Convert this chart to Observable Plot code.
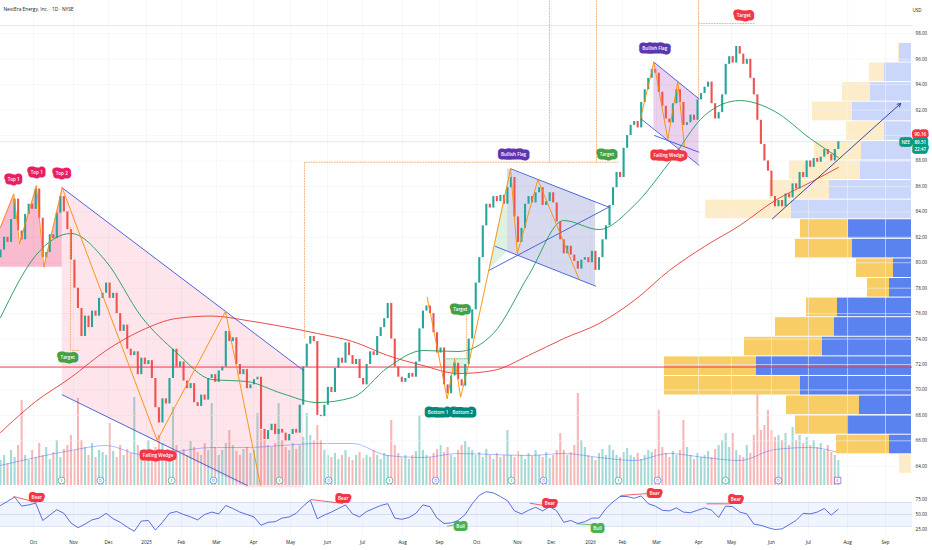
<!DOCTYPE html>
<html>
<head>
<meta charset="utf-8">
<script src="https://cdn.jsdelivr.net/npm/d3@7"></script>
<script src="https://cdn.jsdelivr.net/npm/@observablehq/plot@0.6"></script>
<style>
html,body{margin:0;padding:0;background:#fff;}
#chart{position:relative;width:932px;height:550px;overflow:hidden;background:#fff;}
#chart svg{position:absolute;left:0;}
</style>
</head>
<body>
<div id="chart"></div>
<script>
// ---------- DATA ----------
// daily closes sampled every 2 trading days (index i -> trading day 2*i)
const closes = [
81.0,82.0,81.6,83.4,85.0,82.5,81.8,83.8,84.6,84.2,
85.8,83.5,80.4,80.8,82.2,81.9,83.9,85.2,84.0,82.6,
80.2,78.0,76.4,74.2,75.8,74.9,76.2,75.8,77.2,77.6,
78.4,77.2,77.6,76.0,74.6,75.1,73.2,72.7,73.0,71.2,
72.5,72.0,72.3,70.9,68.6,67.4,69.3,68.9,70.9,73.2,
71.8,72.2,70.7,70.1,70.5,69.0,68.7,69.6,69.2,70.9,
71.2,70.6,71.5,71.8,74.6,73.8,74.1,72.0,71.2,71.6,
70.1,70.4,70.8,71.0,66.9,66.1,66.8,67.3,66.5,66.9,
66.6,66.0,66.5,66.9,66.6,68.8,71.8,73.6,74.2,73.8,
68.0,67.9,68.8,70.2,69.8,71.7,72.5,72.1,73.7,72.7,
72.0,72.4,70.9,70.4,72.0,73.0,72.7,74.2,74.9,75.6,
76.8,74.0,71.8,71.0,70.6,70.9,71.3,71.0,72.2,74.8,
76.2,76.6,76.0,74.5,72.9,73.3,70.4,69.7,71.1,72.1,
70.8,70.3,72.0,74.0,76.3,78.4,80.4,82.9,84.6,84.3,
85.2,84.8,85.3,84.6,85.9,86.7,83.6,81.6,82.7,84.6,
85.2,84.7,85.5,85.9,84.5,84.8,85.5,84.7,83.2,81.8,
80.7,81.3,80.6,80.1,79.5,80.2,80.4,80.0,80.9,79.4,
80.4,81.8,82.9,84.5,85.9,87.1,86.7,89.0,90.0,90.8,
91.1,90.6,92.6,93.6,94.5,95.2,94.9,93.4,92.3,91.3,
91.0,92.5,93.6,92.6,90.8,91.0,91.6,91.2,92.8,93.3,
93.8,94.2,92.5,91.3,91.8,93.2,95.6,96.2,95.7,97.0,
96.4,95.6,96.0,94.5,93.2,91.2,89.3,88.0,87.2,85.2,
84.4,84.9,84.4,85.4,85.1,86.2,85.8,87.1,86.7,88.0,
87.5,88.2,87.9,88.3,88.9,88.5,88.0,88.9,89.51
];
const open0 = 80.4;
const volumes = [
25,30,22,35,28,40,85,30,25,35,
28,42,30,38,26,33,45,28,36,40,
50,35,87,45,38,30,42,28,35,33,
30,62,34,28,40,30,36,32,88,40,
35,30,45,33,38,50,42,35,30,78,
40,32,36,30,44,38,33,30,42,35,
82,38,30,35,42,55,40,34,30,36,
38,32,35,72,55,45,40,38,42,82,
45,38,35,42,36,40,48,72,50,45,
60,45,35,30,28,32,26,30,35,28,
25,30,33,27,30,28,35,30,26,32,
30,65,40,32,28,30,26,30,34,70,
35,30,28,32,36,40,33,38,30,28,
35,40,44,38,35,30,33,28,36,30,
26,32,28,30,55,30,28,34,30,26,
32,29,35,30,28,33,27,30,35,52,
35,30,33,40,92,45,38,30,28,25,
32,36,30,40,35,30,28,33,37,30,
28,32,26,30,35,33,36,75,38,32,
28,34,30,35,65,38,30,26,32,28,
30,34,28,36,40,45,52,38,52,35,
30,28,40,32,50,92,55,60,75,55,
48,50,45,52,40,58,45,50,42,48,
40,45,38,42,35,40,33,30,25
];
// moving averages, read at these candle indices
const maIdx  = [0,10,20,30,40,50,60,70,80,90,100,110,120,130,140,150,160,170,180,190,200,210,220,230,238];
const sma50  = [75.69,80.57,82.30,80.10,75.77,72.94,70.82,70.66,69.72,69.01,69.41,71.76,73.10,73.02,74.44,79.00,83.32,82.61,84.50,87.88,91.58,92.75,91.89,89.77,88.27];
const sma200 = [66.65,69.09,70.98,73.10,74.67,75.62,75.81,75.46,74.99,74.44,73.81,72.71,71.92,71.29,71.53,72.71,74.04,75.22,77.03,79.39,81.28,82.93,84.89,86.31,87.49];
const volMA  = [20,28,35,40,31,34,38,38,40,42,42,30,28,32,31,30,32,28,25,32,28,25,36,38,33];
// RSI every 4 trading days
const rsi = [
65,72,79,64,66,69,40,49,58,52,
36,28,34,41,44,52,43,37,29,22,
39,40,24,37,52,55,50,46,41,50,
54,51,65,60,54,50,46,32,37,38,
44,46,52,64,74,43,49,54,60,66,
51,46,55,60,65,68,44,42,45,52,
66,63,44,35,36,40,50,68,82,88,
86,80,73,56,51,57,62,56,63,56,
37,40,35,38,44,44,60,71,80,80,
77,81,68,64,57,56,61,54,53,57,
61,57,45,64,63,54,51,34,32,28,
25,26,33,40,52,51,54,60,49,59
];
const monthLabels = ["Oct","Nov","Dec","2025","Feb","Mar","Apr","May","Jun","Jul","Aug","Sep","Oct","Nov","Dec","2026","Feb","Mar","Apr","May","Jun","Jul","Aug","Sep"];
const monthDays   = [18.75,41.5,61.4,83,102.8,122.7,143.75,164.8,185.8,205.7,228.4,249.4,270.5,293.75,313,335.2,353.4,372.7,396.6,415.3,438,459,481.25,502.8];
const priceTicks = [64,66,68,70,72,74,76,78,80,82,84,86,88,90,92,94,96,98];
const rsiTicks = [25,50,75];
// volume profile (visible range)
const vpEdges = [63.40,64.94,66.48,68.02,69.56,71.10,72.64,74.18,75.72,77.26,78.80,80.34,81.88,83.42,84.96,86.50,88.04,89.58,91.12,92.66,94.20,95.74,97.28];
const vpUp    = [0,22,64,52,111,155,89,77,74,22,18,59,63,120,82,51,50,27,59,41,27,12];
const vpDown  = [12,53,52,73,136,92,78,59,31,22,37,57,48,86,60,71,47,38,40,28,15,1];
const vaLow = 64.94, vaHigh = 83.42;
const supportLevel = 71.8;
const lastPrice = 89.51, topLine = 98.65;
// earnings / dividend markers
const eventDays  = [34.7,56.8,97.2,121,158.5,186.4,221,247.2,290.3,308.5,351.1,373.3,411.9,442];
const eventKinds = ["E","D","E","D","E","D","E","D","E","D","E","D","E","D"];
const nextEarnDay = 475.6;
// chart pattern drawings (day, price)
const dtZig    = [[0,82.77],[7.56,85.42],[10.8,81.49],[20.45,86.07],[24.6,79.65],[35.06,85.89]];
const dtNeck   = 79.65;
const wedgeZig = [[35.06,85.89],[89.03,66.03],[127.8,76.17],[147.7,62.49]];
const wedgeUpper = [[35.06,85.89],[172.2,71.53]];
const wedgeLower = [[35.06,69.62],[140.2,62.49]];
const wedgeArea  = {d:[35.06,140.2,172.2], lo:[69.62,62.3,62.3], hi:[85.89,74.88,71.53]};
const dbZig    = [[242.4,77.29],[253.8,69.30],[258,72.45],[261.4,69.43],[265.2,71.53],[289.8,87.39],[293.6,80.70],[305.3,86.52],[328.6,78.74]];
const dbBox    = {d:[251.7,265.3], lo:[71.3,71.3], hi:[72.45,72.45]};
const flag1Lines = [[[289.8,87.39],[345.6,84.37]],[[281.25,81.28],[338.1,78.16]],[[277.4,79.39],[345.6,84.37]]];
const flag1Area  = {d:[288.1,338.1], lo:[80.9,78.16], hi:[87.39,84.78]};
const flag1Pole  = {d:[277.4,288.1], lo:[79.39,80.9], hi:[79.39,86.3]};
const flag2Zig   = [[363.6,91.34],[371.2,95.77],[379.1,89.71],[384.8,94.25],[388.6,89.08]];
const flag2Lines = [[[371.2,95.77],[396.8,92.89]],[[363.6,91.34],[396.8,87.67]],[[371.6,90.0],[396.8,88.69]]];
const flag2Area  = {d:[371.2,396.8], lo:[90.55,87.67], hi:[95.77,92.89]};
const targetDots = [
  [[39.8,82.77],[39.8,73.1],[44.3,73.1]],
  [[172.7,74.1],[172.7,87.9],[351,87.9]],
  [[311.9,100.6],[311.9,87.9]],
  [[338.6,100.6],[338.6,87.9]],
  [[264.8,72.47],[264.8,75.8]],
  [[396.6,100.6],[396.6,92.75]],
  [[396.6,98.81],[429,98.81]]
];
const dbNeckDots = [[251.7,72.45],[265.3,72.45]];
const trendArrow = {d1:438.5, p1:83.45, d2:511.4, p2:92.52};
const patternLabels = [
 {t:"Top 1", d:7.5, p:86.54, c:"#e91e63"},
 {t:"Top 1", d:20.6, p:87.1, c:"#e91e63"},
 {t:"Top 2", d:34.8, p:86.98, c:"#e91e63"},
 {t:"Target", d:38.2, p:72.55, c:"#43a047"},
 {t:"Falling Wedge", d:89.5, p:64.82, c:"#f23645"},
 {t:"Bottom 1", d:248.6, p:68.19, c:"#00897b"},
 {t:"Bottom 2", d:262.6, p:68.19, c:"#00897b"},
 {t:"Target", d:261.2, p:76.35, c:"#43a047"},
 {t:"Bullish Flag", d:291.5, p:88.52, c:"#5e35b1"},
 {t:"Target", d:344.5, p:88.51, c:"#43a047"},
 {t:"Bullish Flag", d:371.7, p:96.87, c:"#5e35b1"},
 {t:"Falling Wedge", d:379.7, p:88.46, c:"#f23645"},
 {t:"Target", d:422.3, p:99.44, c:"#f23645"}
];
const priceTags = [
 {t:"90.16", d:522.6, p:90.1, c:"#f23645"},
 {t:"NEE", d:514.3, p:89.45, c:"#089981"},
 {t:"89.51", d:522.6, p:89.45, c:"#089981"},
 {t:"22:47", d:522.6, p:88.93, c:"#089981"}
];
const rsiDivs = [
 {d1:7.4, r1:80, d2:20.6, r2:70, c:"#f23645"},
 {d1:176.1, r1:75, d2:194.7, r2:68.3, c:"#f23645"},
 {d1:253.8, r1:30.5, d2:259, r2:33.3, c:"#4caf50"},
 {d1:300.7, r1:68.9, d2:308.7, r2:65, c:"#f23645"},
 {d1:327.3, r1:34.4, d2:336.7, r2:32.8, c:"#4caf50"},
 {d1:352.3, r1:81.7, d2:368.2, r2:85, c:"#f23645"},
 {d1:401.1, r1:67.8, d2:414.4, r2:67.8, c:"#f23645"}
];
const rsiLabels = [
 {t:"Bear", d:20.6, r:77.5, c:"#f23645"},
 {t:"Bear", d:194.7, r:76.1, c:"#f23645"},
 {t:"Bull", d:261.4, r:30, c:"#4caf50"},
 {t:"Bear", d:312.1, r:68.3, c:"#f23645"},
 {t:"Bull", d:339.2, r:26.7, c:"#4caf50"},
 {t:"Bear", d:371.6, r:84.8, c:"#f23645"},
 {t:"Bear", d:417.8, r:75, c:"#f23645"}
];

// ---------- BUILD ----------
const FONT = "'Open Sans','Noto Sans',sans-serif";
const baseStyle = {background:"transparent", fontFamily:FONT, fontSize:"4.6px", color:"#131722", overflow:"visible", maxWidth:"none"};
const X = {domain:[0,529.5], range:[0,932], axis:null};
const YP = {domain:[64,98], range:[465.76,33.28], axis:null};
const axisDay = 519.9;
const iconPrice = 62.88;

const candles = closes.map((c,i)=>({d:2*i, o: i ? closes[i-1] : open0, c, v: volumes[i] ?? 30}));
const pts = a => a.map(([d,p])=>({d,p}));
const seg = (arr) => arr.flatMap((s,k)=>s.map(([d,p])=>({k,d,p})));
const areaRows = a => a.d.map((d,j)=>({d, lo:a.lo[j], hi:a.hi[j]}));
const maRows = vals => maIdx.map((k,j)=>({d:2*k, v:vals[j]}));

// label = white text on a halo "box" of the label colour
function labelMark(l, yKey, sw){
  return Plot.text([l], {x:"d", y:yKey, text:"t", fill:"white", stroke:l.c, strokeWidth:sw||7,
    strokeLinejoin:"round", paintOrder:"stroke", fontSize:4.6, fontWeight:600});
}

const root = document.getElementById("chart");

// layer 1: volume
const volPlot = Plot.plot({
  width:932, height:488, margin:0, marginRight:20,
  x:X, y:{domain:[0,100], range:[485,385], axis:null},
  style:baseStyle,
  marks:[
    Plot.ruleX(candles, {x:"d", y1:()=>0, y2:"v", stroke:d=>d.c>=d.o?"#26a69a":"#ef5350", strokeOpacity:0.42, strokeWidth:2.1}),
    Plot.line(maRows(volMA), {x:"d", y:"v", stroke:"#3d5afe", strokeOpacity:0.7, strokeWidth:0.6, curve:"monotone-x"})
  ]
});
volPlot.style.top = "0px";
root.appendChild(volPlot);

// layer 2: volume profile
const vpBins = vpUp.map((u,k)=>({lo:vpEdges[k], hi:vpEdges[k+1], up:u, dn:vpDown[k], va: vpEdges[k]>=vaLow-0.01 && vpEdges[k+1]<=vaHigh+0.01}));
const vpPlot = Plot.plot({
  width:932, height:488, margin:0, marginRight:20,
  x:{domain:[0,250], range:[911,661], axis:null}, y:YP,
  style:baseStyle,
  marks:[
    Plot.rect(vpBins, {x1:()=>0, x2:"up", y1:"lo", y2:"hi", fill:d=>d.va?"#5b83f0":"#cad7fa", insetTop:0.5, insetBottom:0.5}),
    Plot.rect(vpBins, {x1:"up", x2:d=>d.up+d.dn, y1:"lo", y2:"hi", fill:d=>d.va?"#f9cd66":"#fcecc8", insetTop:0.5, insetBottom:0.5})
  ]
});
vpPlot.style.top = "0px";
root.appendChild(vpPlot);

// layer 3: price
const mainPlot = Plot.plot({
  width:932, height:488, margin:0, marginRight:20,
  x:X, y:YP,
  style:baseStyle,
  marks:[
    Plot.ruleX(monthDays, {stroke:"#eef1f6", strokeWidth:0.6}),
    Plot.ruleY(priceTicks, {stroke:"#eef1f6", strokeWidth:0.6}),
    Plot.ruleY([topLine, lastPrice], {stroke:"#d6d9e0", strokeWidth:0.6}),
    // pattern fills
    Plot.areaY(areaRows(wedgeArea), {x:"d", y1:"lo", y2:"hi", fill:"#f06080", fillOpacity:0.16}),
    Plot.areaY(pts(dtZig), {x:"d", y1:()=>dtNeck, y2:"p", fill:"#e91e63", fillOpacity:0.3}),
    Plot.areaY(areaRows(flag1Area), {x:"d", y1:"lo", y2:"hi", fill:"#7986cb", fillOpacity:0.3}),
    Plot.areaY(areaRows(flag1Pole), {x:"d", y1:"lo", y2:"hi", fill:"#81c784", fillOpacity:0.25}),
    Plot.areaY(areaRows(flag2Area), {x:"d", y1:"lo", y2:"hi", fill:"#ba68c8", fillOpacity:0.3}),
    Plot.areaY(areaRows(dbBox), {x:"d", y1:"lo", y2:"hi", fill:"#81c784", fillOpacity:0.25}),
    // candles
    Plot.ruleX(candles, {x:"d", y1:"o", y2:"c", stroke:d=>d.c>=d.o?"#26a69a":"#ef5350", strokeWidth:2.1}),
    // support line
    Plot.ruleY([supportLevel], {stroke:"#f23645", strokeWidth:1}),
    // moving averages
    Plot.line(maRows(sma200), {x:"d", y:"v", stroke:"#e53935", strokeWidth:0.9, curve:"monotone-x"}),
    Plot.line(maRows(sma50), {x:"d", y:"v", stroke:"#1e9a57", strokeWidth:0.9, curve:"monotone-x"}),
    // pattern lines
    Plot.line(seg([wedgeUpper, wedgeLower]), {x:"d", y:"p", z:"k", stroke:"#3d56d8", strokeWidth:0.9, clip:true}),
    Plot.line(seg(flag1Lines), {x:"d", y:"p", z:"k", stroke:"#3d56d8", strokeWidth:0.9}),
    Plot.line(seg(flag2Lines), {x:"d", y:"p", z:"k", stroke:"#3d56d8", strokeWidth:0.9}),
    Plot.line(seg([dtZig, wedgeZig, dbZig, flag2Zig]), {x:"d", y:"p", z:"k", stroke:"#fb8c00", strokeWidth:0.9, clip:true}),
    Plot.line(seg(targetDots), {x:"d", y:"p", z:"k", stroke:"#f4a261", strokeWidth:0.8, strokeDasharray:"1,1.6", clip:true}),
    Plot.line(pts(dbNeckDots), {x:"d", y:"p", stroke:"#66bb6a", strokeWidth:0.8, strokeDasharray:"1,1.6"}),
    Plot.arrow([trendArrow], {x1:"d1", y1:"p1", x2:"d2", y2:"p2", stroke:"#2b3496", strokeWidth:0.9, headLength:6}),
    // event icons
    Plot.dot(eventDays.map((d,i)=>({d,k:eventKinds[i]})), {x:"d", y:()=>iconPrice, r:3.4, fill:"white", stroke:d=>d.k==="E"?"#089981":"#2962ff", strokeWidth:0.6}),
    Plot.text(eventDays.map((d,i)=>({d,k:eventKinds[i]})), {x:"d", y:()=>iconPrice, text:"k", fontSize:3.8, fill:d=>d.k==="E"?"#089981":"#2962ff"}),
    Plot.dot([nextEarnDay], {x:d=>d, y:()=>iconPrice, r:3.6, symbol:"square", fill:"white", stroke:"#9c27b0", strokeWidth:0.6}),
    Plot.text([nextEarnDay], {x:d=>d, y:()=>iconPrice, text:()=>"E", fontSize:3.8, fill:"#9c27b0"}),
    // price axis
    Plot.text(priceTicks, {x:()=>axisDay, y:d=>d, text:d=>d.toFixed(2), textAnchor:"start", fontSize:4.5, fill:"#131722"}),
    // title
    Plot.text(["NextEra Energy, Inc. · 1D · NYSE"], {frameAnchor:"top-left", dx:3, dy:7, textAnchor:"start", fontSize:4.8, fill:"#131722"}),
    Plot.text(["USD"], {frameAnchor:"top-right", dx:9, dy:8, fontSize:4.5, fill:"#131722"}),
    // labels
    ...patternLabels.map(l=>labelMark(l,"p")),
    ...priceTags.map(l=>labelMark(l,"p",5.5))
  ]
});
mainPlot.style.top = "0px";
root.appendChild(mainPlot);

// RSI panel
const rsiPlot = Plot.plot({
  width:932, height:62, marginTop:0, marginLeft:0, marginRight:20, marginBottom:14,
  x:X, y:{domain:[13.33,93.33], range:[48,0], axis:null},
  style:baseStyle,
  marks:[
    Plot.ruleX(monthDays, {stroke:"#eef1f6", strokeWidth:0.6}),
    Plot.rect([0], {x1:()=>0, x2:()=>518.2, y1:()=>30, y2:()=>70, fill:"#2962ff", fillOpacity:0.07}),
    Plot.ruleY([30,50,70], {stroke:"#9fb3d9", strokeOpacity:0.7, strokeWidth:0.5}),
    Plot.line(rsi, {x:(d,i)=>4*i, y:d=>d, stroke:"#4a5fd6", strokeWidth:0.9}),
    Plot.link(rsiDivs, {x1:"d1", y1:"r1", x2:"d2", y2:"r2", stroke:"c", strokeWidth:0.8}),
    Plot.text(rsiTicks, {x:()=>axisDay, y:d=>d, text:d=>d.toFixed(2), textAnchor:"start", fontSize:4.5, fill:"#131722"}),
    Plot.text(monthDays, {x:d=>d, text:(d,i)=>monthLabels[i], frameAnchor:"bottom", dy:7, fontSize:4.6, fill:"#131722"}),
    ...rsiLabels.map(l=>labelMark(l,"r",6))
  ]
});
rsiPlot.style.top = "488px";
root.appendChild(rsiPlot);
</script>
</body>
</html>
